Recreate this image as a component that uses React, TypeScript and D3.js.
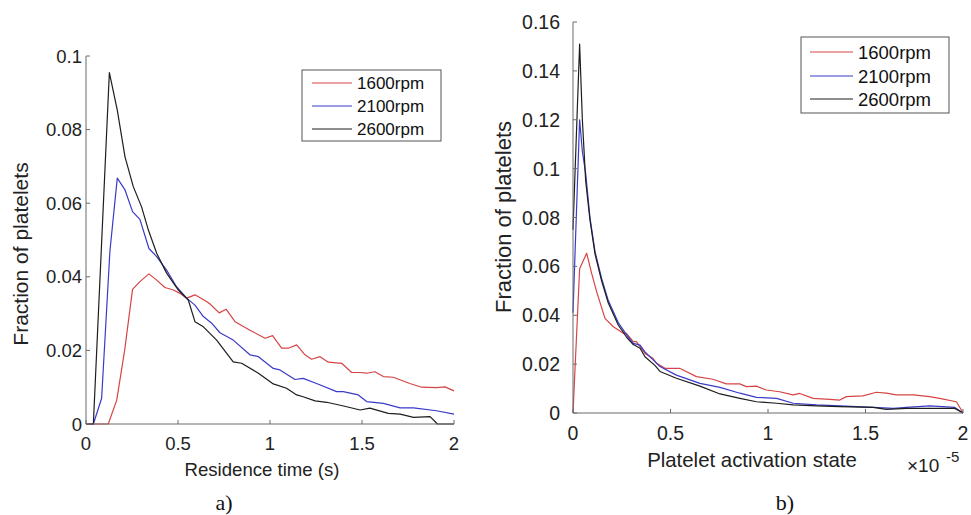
import React from "react";
import * as d3 from "d3";

// ---------- Panel a) residence time ----------
const resLegend = ["1600rpm", "2100rpm", "2600rpm"];
const resXTicks = [0, 0.5, 1, 1.5, 2];
const resYTicks = [0, 0.02, 0.04, 0.06, 0.08, 0.1];

const resX1600 = [0, 0.121, 0.167, 0.21, 0.253, 0.293, 0.342, 0.384, 0.429, 0.475, 0.511, 0.547, 0.592, 0.655, 0.674, 0.724, 0.761, 0.81, 0.891, 0.973, 1.014, 1.063, 1.1, 1.145, 1.19, 1.226, 1.272, 1.317, 1.39, 1.444, 1.49, 1.525, 1.57, 1.616, 1.67, 1.76, 1.824, 1.905, 1.951, 2.0];
const resY1600 = [0, 0, 0.0065, 0.02, 0.0366, 0.0387, 0.0408, 0.0391, 0.0371, 0.0364, 0.0355, 0.0342, 0.0351, 0.0333, 0.0326, 0.0302, 0.0312, 0.0278, 0.0255, 0.0233, 0.024, 0.0206, 0.0206, 0.0215, 0.0188, 0.0176, 0.0183, 0.0168, 0.0165, 0.014, 0.014, 0.0138, 0.0142, 0.0129, 0.0127, 0.011, 0.01, 0.0099, 0.0101, 0.009];

const resX2100 = [0, 0.04, 0.085, 0.13, 0.17, 0.212, 0.253, 0.293, 0.342, 0.384, 0.438, 0.492, 0.547, 0.592, 0.638, 0.683, 0.728, 0.8, 0.891, 0.937, 1.018, 1.054, 1.136, 1.18, 1.253, 1.362, 1.398, 1.48, 1.525, 1.616, 1.707, 1.78, 1.905, 2.0];
const resY2100 = [0, 0, 0.007, 0.047, 0.0668, 0.0636, 0.0577, 0.0556, 0.0477, 0.0455, 0.0418, 0.0373, 0.0342, 0.0323, 0.0292, 0.0274, 0.0248, 0.0228, 0.0188, 0.0183, 0.0151, 0.0147, 0.0121, 0.0124, 0.011, 0.0088, 0.0088, 0.0079, 0.0061, 0.0056, 0.0044, 0.0044, 0.0036, 0.0027];

const resX2600 = [0, 0.04, 0.127, 0.17, 0.212, 0.257, 0.302, 0.339, 0.384, 0.438, 0.502, 0.556, 0.592, 0.638, 0.71, 0.8, 0.846, 0.937, 1.018, 1.09, 1.145, 1.18, 1.245, 1.308, 1.4, 1.49, 1.543, 1.643, 1.707, 1.78, 1.87, 1.91, 2.0];
const resY2600 = [0, 0, 0.0955, 0.0853, 0.0726, 0.0645, 0.059, 0.0527, 0.0464, 0.041, 0.0364, 0.0337, 0.0278, 0.0264, 0.0228, 0.0169, 0.0165, 0.0138, 0.0109, 0.0097, 0.0079, 0.0074, 0.0063, 0.0059, 0.0049, 0.0038, 0.0043, 0.0029, 0.0027, 0.0018, 0.002, 0, 0];

// ---------- Panel b) activation state ----------
const actXTicks = [0, 0.5, 1, 1.5, 2];
const actYTicks = [0, 0.02, 0.04, 0.06, 0.08, 0.1, 0.12, 0.14, 0.16];

const actX1600 = [0, 0.034, 0.07, 0.096, 0.12, 0.164, 0.207, 0.258, 0.274, 0.309, 0.325, 0.369, 0.41, 0.429, 0.472, 0.513, 0.547, 0.633, 0.718, 0.786, 0.855, 0.889, 0.94, 0.991, 1.06, 1.128, 1.163, 1.232, 1.317, 1.368, 1.402, 1.487, 1.556, 1.607, 1.658, 1.744, 1.829, 1.88, 1.966, 2.0];
const actY1600 = [0, 0.059, 0.0654, 0.057, 0.05, 0.0387, 0.0353, 0.0326, 0.0326, 0.0292, 0.0292, 0.0244, 0.0224, 0.0203, 0.0183, 0.0183, 0.0183, 0.0149, 0.0138, 0.0119, 0.0119, 0.0108, 0.011, 0.0094, 0.0087, 0.0074, 0.008, 0.006, 0.0056, 0.0053, 0.0067, 0.007, 0.0085, 0.0081, 0.0074, 0.0074, 0.0067, 0.006, 0.0046, 0.0001];

const actX2100 = [0, 0.034, 0.048, 0.065, 0.087, 0.113, 0.147, 0.181, 0.215, 0.232, 0.275, 0.309, 0.344, 0.369, 0.42, 0.446, 0.53, 0.651, 0.754, 0.856, 0.941, 1.044, 1.129, 1.249, 1.368, 1.54, 1.643, 1.71, 1.829, 1.958, 2.0];
const actY2100 = [0.041, 0.12, 0.107, 0.098, 0.08, 0.066, 0.055, 0.046, 0.04, 0.037, 0.032, 0.0285, 0.0278, 0.025, 0.021, 0.019, 0.0155, 0.0121, 0.0105, 0.0081, 0.0064, 0.006, 0.004, 0.0033, 0.0029, 0.0023, 0.0019, 0.0023, 0.0029, 0.0023, 0];

const actX2600 = [0, 0.034, 0.048, 0.065, 0.087, 0.113, 0.147, 0.181, 0.232, 0.275, 0.309, 0.344, 0.369, 0.42, 0.446, 0.53, 0.651, 0.754, 0.856, 0.941, 1.044, 1.129, 1.249, 1.368, 1.54, 1.607, 1.71, 1.829, 1.958, 2.0];
const actY2600 = [0.075, 0.151, 0.12, 0.095, 0.079, 0.065, 0.054, 0.045, 0.036, 0.031, 0.028, 0.0265, 0.023, 0.0195, 0.017, 0.0142, 0.011, 0.0078, 0.006, 0.0046, 0.004, 0.0033, 0.0029, 0.0026, 0.0023, 0.0015, 0.0019, 0.0019, 0.0019, 0];

const COLORS = ["#d64545", "#3a3ac8", "#1e1e1e"];
const FONT = "'Liberation Sans', Arial, sans-serif";
const AXIS = "#6a6a6a";

type Series = { xs: number[]; ys: number[]; color: string };

function Panel(props: {
  x0: number; x1: number; y0: number; y1: number;
  yMax: number; xTicks: number[]; yTicks: number[];
  series: Series[];
  yFmt: (v: number) => string;
  tickFont: number; labelFont: number; yLabelFont: number; legendFont: number;
  tickLabelBaselineX: number; yLabelRight: number;
  yLabelX: number; yLabelY: number;
  xLabel: string; xLabelX: number; xLabelY: number;
  legend: { x: number; y: number; w: number; h: number; lineX0: number; lineX1: number; textX: number; rows: number[] };
}) {
  const p = props;
  const xs = d3.scaleLinear().domain([0, 2]).range([p.x0, p.x1]);
  const ys = d3.scaleLinear().domain([0, p.yMax]).range([p.y0, p.y1]);
  const line = d3.line<[number, number]>().x((d) => xs(d[0])).y((d) => ys(d[1]));
  return (
    <g>
      {p.series.map((s, i) => (
        <path key={i} d={line(s.xs.map((x, j) => [x, s.ys[j]] as [number, number])) || ""}
          fill="none" stroke={s.color} strokeWidth={1.2} strokeLinejoin="round" />
      ))}
      <line x1={p.x0} x2={p.x0} y1={p.y0} y2={p.y1} stroke={AXIS} strokeWidth={1} />
      <line x1={p.x0} x2={p.x1} y1={p.y0} y2={p.y0} stroke={AXIS} strokeWidth={1} />
      {p.xTicks.map((t) => (
        <g key={"x" + t}>
          <line x1={xs(t)} x2={xs(t)} y1={p.y0} y2={p.y0 - 4} stroke={AXIS} />
          <text x={xs(t)} y={p.tickLabelBaselineX} textAnchor="middle" fontSize={p.tickFont} fontFamily={FONT} fill="#222">{String(t)}</text>
        </g>
      ))}
      {p.yTicks.map((t) => (
        <g key={"y" + t}>
          <line x1={p.x0} x2={p.x0 + 4} y1={ys(t)} y2={ys(t)} stroke={AXIS} />
          <text x={p.yLabelRight} y={ys(t) + p.tickFont * 0.36} textAnchor="end" fontSize={p.tickFont} fontFamily={FONT} fill="#222">{p.yFmt(t)}</text>
        </g>
      ))}
      <text transform={`translate(${p.yLabelX},${p.yLabelY}) rotate(-90)`} textAnchor="middle" fontSize={p.yLabelFont} fontFamily={FONT} fill="#222">Fraction of platelets</text>
      <text x={p.xLabelX} y={p.xLabelY} textAnchor="middle" fontSize={p.labelFont} fontFamily={FONT} fill="#222">{p.xLabel}</text>
      <rect x={p.legend.x} y={p.legend.y} width={p.legend.w} height={p.legend.h} fill="#fff" stroke="#555" strokeWidth={1} />
      {resLegend.map((name, i) => (
        <g key={name}>
          <line x1={p.legend.lineX0} x2={p.legend.lineX1} y1={p.legend.rows[i]} y2={p.legend.rows[i]} stroke={COLORS[i]} strokeWidth={1.2} />
          <text x={p.legend.textX} y={p.legend.rows[i] + p.legendFont * 0.36} fontSize={p.legendFont} fontFamily={FONT} fill="#111">{name}</text>
        </g>
      ))}
    </g>
  );
}

export default function App() {
  const fmt = (v: number) => (v === 0 ? "0" : String(+v.toFixed(2)));
  return (
    <svg width={971} height={515} style={{ position: "absolute", left: 0, top: 0, background: "#fff" }}>
      <rect x={0} y={0} width={971} height={515} fill="#fff" />
      <Panel
        x0={86} x1={454} y0={424} y1={56} yMax={0.1}
        xTicks={resXTicks} yTicks={resYTicks} yFmt={fmt}
        tickFont={18.5} labelFont={18.6} yLabelFont={21} legendFont={17}
        series={[
          { xs: resX1600, ys: resY1600, color: COLORS[0] },
          { xs: resX2100, ys: resY2100, color: COLORS[1] },
          { xs: resX2600, ys: resY2600, color: COLORS[2] },
        ]}
        tickLabelBaselineX={450} yLabelRight={82}
        yLabelX={28} yLabelY={254}
        xLabel="Residence time (s)" xLabelX={262} xLabelY={476}
        legend={{ x: 302, y: 70, w: 139, h: 71, lineX0: 312, lineX1: 352, textX: 357, rows: [83, 106, 129] }}
      />
      <Panel
        x0={573} x1={963} y0={413} y1={22} yMax={0.16}
        xTicks={actXTicks} yTicks={actYTicks} yFmt={fmt}
        tickFont={19.5} labelFont={20.4} yLabelFont={22} legendFont={18.5}
        series={[
          { xs: actX1600, ys: actY1600, color: COLORS[0] },
          { xs: actX2100, ys: actY2100, color: COLORS[1] },
          { xs: actX2600, ys: actY2600, color: COLORS[2] },
        ]}
        tickLabelBaselineX={440} yLabelRight={560}
        yLabelX={511} yLabelY={217}
        xLabel="Platelet activation state" xLabelX={752} xLabelY={467}
        legend={{ x: 801, y: 37, w: 148, h: 76, lineX0: 810, lineX1: 853, textX: 858, rows: [52, 76, 99] }}
      />
      <text x={907} y={472} fontSize={19} fontFamily={FONT} fill="#222">×10</text>
      <text x={946} y={462} fontSize={15} fontFamily={FONT} fill="#222">-5</text>
      <text x={224} y={510} textAnchor="middle" fontSize={22} fontFamily="'Liberation Serif', 'Times New Roman', serif" fill="#111">a)</text>
      <text x={785} y={510} textAnchor="middle" fontSize={22} fontFamily="'Liberation Serif', 'Times New Roman', serif" fill="#111">b)</text>
    </svg>
  );
}
